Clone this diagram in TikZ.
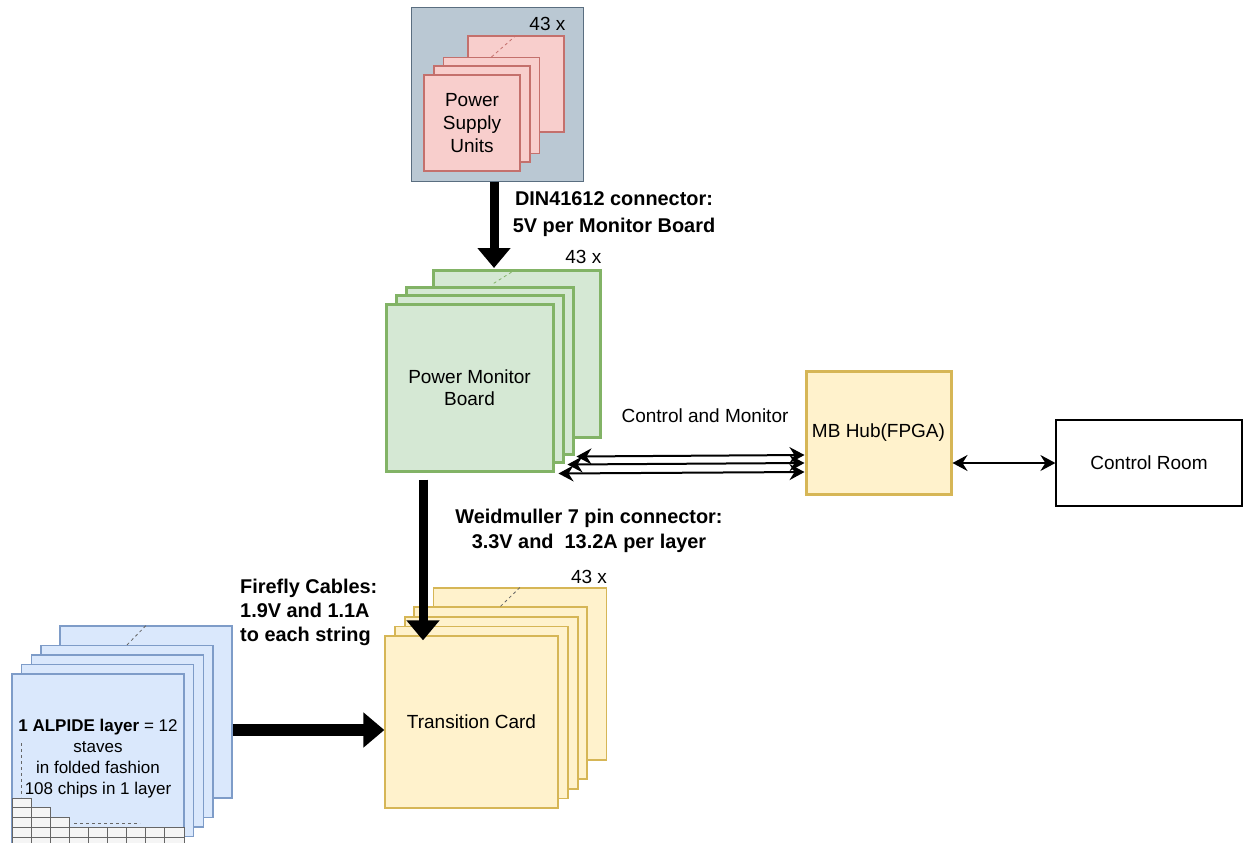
\documentclass[tikz,border=0pt]{standalone}
\usepackage{fontspec}
\setmainfont{Liberation Sans}
\usetikzlibrary{arrows.meta,calc}
\definecolor{psfill}{HTML}{BAC8D3}
\definecolor{psline}{HTML}{5A6E80}
\definecolor{pinkfill}{HTML}{F8CECC}
\definecolor{pinkline}{HTML}{C4706C}
\definecolor{greenfill}{HTML}{D5E8D4}
\definecolor{greenline}{HTML}{82B366}
\definecolor{yelfill}{HTML}{FFF2CC}
\definecolor{yelline}{HTML}{D6B656}
\definecolor{bluefill}{HTML}{DAE8FC}
\definecolor{blueline}{HTML}{7E9CC8}
\definecolor{chipfill}{HTML}{F5F5F5}
\definecolor{chipline}{HTML}{666666}
\begin{document}
\begin{tikzpicture}[x=1pt,y=-1pt,
  card/.style={draw, rectangle, inner sep=0pt, align=center},
  pinkcard/.style={card, fill=pinkfill, draw=pinkline, line width=1.1,
    minimum width=96, minimum height=96},
  greencard/.style={card, fill=greenfill, draw=greenline, line width=3,
    minimum width=167, minimum height=167},
  yelcard/.style={card, fill=yelfill, draw=yelline, line width=1.3,
    minimum width=173, minimum height=172},
  bluecard/.style={card, fill=bluefill, draw=blueline, line width=1.1,
    minimum width=172, minimum height=172},
  lbl/.style={inner sep=0pt, font=\fontsize{19}{23}\selectfont},
  boldlbl/.style={inner sep=0pt, align=center, font=\fontsize{19.9}{25}\selectfont\bfseries},
  stackdash/.style={line width=0.8, dash pattern=on 3pt off 3pt},
  chip/.style={fill=chipfill, draw=chipline, line width=0.8},
  bigarrow/.style={line width=9, -{Triangle[length=20, width=32]}},
  bigarrowh/.style={line width=12, -{Triangle[length=21, width=34]}},
  dbl/.style={line width=2, {Stealth[length=15, width=16, inset=5]}-{Stealth[length=15, width=16, inset=5]}}
]
\clip (0,0) rectangle (1243,843);
\useasboundingbox (0,0) rectangle (1243,843);

% power supply crate with its units
\node[card, fill=psfill, draw=psline, line width=1, minimum width=172, minimum height=173] (ps) at (497,94.5) {};
\node[pinkcard] (psu4) at (516,84) {};
\node[pinkcard] (psu3) at (491.5,105.5) {};
\node[pinkcard] (psu2) at (482,114) {};
\node[pinkcard, font=\fontsize{19}{23}\selectfont] (psu1) at (472,123) {Power\\Supply\\Units};
\draw[stackdash, draw=pinkline] (psu3.north) -- (psu4.north);
\node[lbl, anchor=base east] (n43ps) at ($(psu4.north east)+(1,-5)$) {43 x};

% power monitor boards
\node[greencard] (pmb4) at (516.5,354) {};
\node[greencard] (pmb3) at (489.5,371) {};
\node[greencard] (pmb2) at (479.5,379) {};
\node[greencard, font=\fontsize{19}{22}\selectfont] (pmb1) at (469.5,387.5) {Power Monitor\\Board};
\draw[stackdash, draw=greenline, shorten <=5, shorten >=4] (pmb3.north) -- (pmb4.north);
\node[lbl, anchor=base east] (n43pmb) at ($(pmb4.north east)+(0,-6)$) {43 x};

% transition cards
\node[yelcard] (tc5) at (520,674) {};
\node[yelcard] (tc4) at (500.5,693) {};
\node[yelcard] (tc3) at (491.5,703) {};
\node[yelcard] (tc2) at (481.5,712.5) {};
\node[yelcard, font=\fontsize{19}{23}\selectfont] (tc1) at (471.5,722) {Transition Card};
\draw[stackdash, draw=chipline] (tc4.north) -- (tc5.north);
\node[lbl, anchor=base east] (n43tc) at ($(tc5.north east)+(0,-4)$) {43 x};

% ALPIDE layers
\node[bluecard] (alp5) at (146,712) {};
\node[bluecard] (alp4) at (127,731.5) {};
\node[bluecard] (alp3) at (117.5,741) {};
\node[bluecard] (alp2) at (107.5,750.5) {};
\node[bluecard] (alp1) at (98,760) {};
\draw[stackdash, draw=chipline] (alp4.north) -- (alp5.north);
\node[inner sep=0pt, align=center, font=\fontsize{17}{21}\selectfont] (alptxt) at (98,759)
  {\textbf{1 ALPIDE layer} = 12\\staves\\in folded fashion\\108 chips in 1 layer};
% chips in the layer
\foreach \r/\n in {0/0,1/1,2/2,3/8,4/8}
  \foreach \c in {0,...,\n}
    \draw[chip] ({12+\c*19.1},{798+\r*9.75}) rectangle ++(19.1,9.75);
\draw[stackdash, draw=chipline, line width=0.7] (74,823) -- (140,823);
\draw[stackdash, draw=chipline, line width=0.7] (21,743) -- (21,797);

% hub and control room
\node[card, fill=yelfill, draw=yelline, line width=3, minimum width=145, minimum height=123,
  font=\fontsize{19}{23}\selectfont] (mb) at (878.5,432.5) {MB Hub(FPGA)};
\node[card, fill=white, draw=black, line width=1.2, minimum width=186, minimum height=86,
  font=\fontsize{19}{23}\selectfont] (cr) at (1149,463) {Control Room};

% labels
\node[boldlbl, font=\fontsize{19.9}{27}\selectfont\bfseries] (din) at (614,214) {DIN41612 connector:\\5V per Monitor Board};
\node[lbl] (cm) at (705,416) {Control and Monitor};
\node[boldlbl] (weid) at (589,531) {Weidmuller 7 pin connector:\\3.3V and\ \ 13.2A per layer};
\node[boldlbl, align=left, anchor=west, font=\fontsize{19.9}{24}\selectfont\bfseries] (ff) at (240,612)
  {Firefly Cables:\\1.9V and 1.1A\\to each string};

% power and data links
\draw[bigarrow] ($(ps.south)+(-3,0)$) -- ($(pmb4.north)+(-22.5,-1)$);
\draw[bigarrow] ($(pmb1.south)+(-46.5,7)$) -- ($(tc1.north)+(-48.5,5)$);
\draw[bigarrowh] ($(alp5.east)+(0,18)$) -- ($(tc1.west)+(0,8)$);
\draw[dbl] ($(pmb3.south east)+(2,0.5)$) -- ($(mb.west)+(0,22.5)$);
\draw[dbl] ($(pmb2.south east)+(3,0.5)$) -- ($(mb.west)+(0,30.5)$);
\draw[dbl] ($(pmb1.south east)+(4,1)$) -- ($(mb.west)+(0,39.5)$);
\draw[dbl] (mb.east |- cr.west) -- (cr.west);
\end{tikzpicture}
\end{document}
